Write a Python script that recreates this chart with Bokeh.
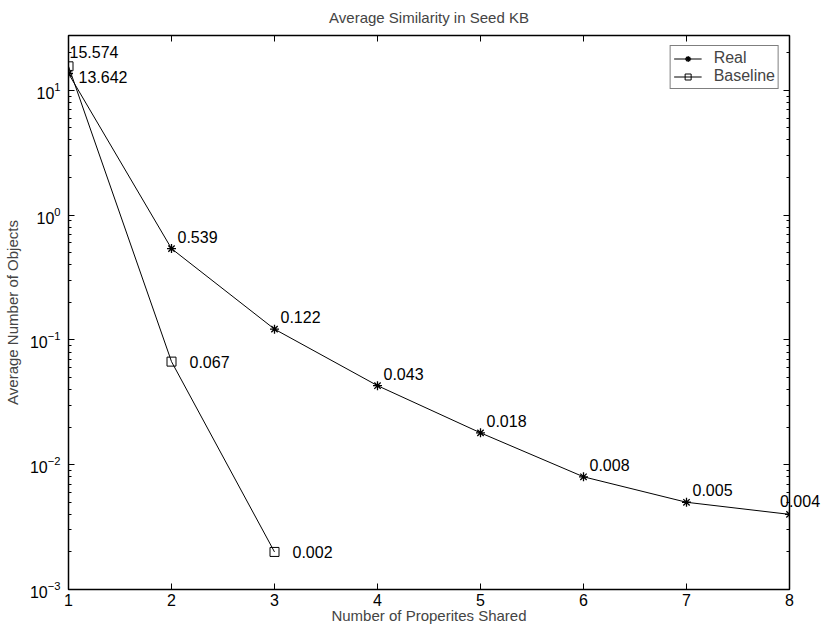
from bokeh.plotting import figure
from bokeh.models import (LinearAxis, FixedTicker, LogTicker, Legend, LegendItem,
                          ColumnDataSource, CustomJSTickFormatter, LabelSet)
from bokeh.core.properties import value
from bokeh.embed import file_html
from bokeh.resources import INLINE

try:
    from bokeh.models import HTMLLabelSet as EdgeLabelSet
except Exception:
    EdgeLabelSet = LabelSet

# data
real_x = [1, 2, 3, 4, 5, 6, 7, 8]
real_y = [13.642, 0.539, 0.122, 0.043, 0.018, 0.008, 0.005, 0.004]
real_lbl = ["13.642", "0.539", "0.122", "0.043", "0.018", "0.008", "0.005", "0.004"]
base_x = [1, 2, 3]
base_y = [15.574, 0.067, 0.002]
base_lbl = ["15.574", "0.067", "0.002"]
x_ticks = [1, 2, 3, 4, 5, 6, 7, 8]

FONT = "Liberation Sans"

p = figure(width=823, height=627, y_axis_type="log", x_range=(1, 8), y_range=(1e-3, 27.5),
           output_backend="svg", toolbar_location=None,
           min_border_left=61, min_border_right=34, min_border_top=26, min_border_bottom=38)
p.title.text = "Average Similarity in Seed KB"
p.title.align = "center"
p.title.text_font = FONT
p.title.text_font_size = "15px"
p.title.text_font_style = "normal"
p.title.standoff = 12
p.xgrid.visible = False
p.ygrid.visible = False
p.outline_line_color = "black"
p.outline_line_width = 1.5

def style_axis(ax, show_labels=True):
    ax.major_tick_in = 6
    ax.major_tick_out = 0
    ax.minor_tick_in = 3
    ax.minor_tick_out = 0
    ax.axis_line_color = "black"
    ax.major_label_text_font = FONT
    ax.major_label_text_font_size = "16px"
    ax.major_label_text_color = "black"
    ax.axis_label_text_font = FONT
    ax.axis_label_text_font_size = "15px"
    ax.axis_label_text_font_style = "normal"
    if not show_labels:
        ax.formatter = CustomJSTickFormatter(code="return ' ';")
        ax.major_label_text_font_size = "1px"
        ax.major_label_standoff = 0

p.xaxis.ticker = FixedTicker(ticks=x_ticks)
p.xaxis.axis_label = "Number of Properites Shared"
p.yaxis.axis_label = "Average Number of Objects"
p.yaxis.ticker = LogTicker(num_minor_ticks=10)
p.xaxis.minor_tick_line_color = None
style_axis(p.xaxis[0])
style_axis(p.yaxis[0])
p.xaxis.major_label_standoff = 4
p.xaxis.axis_label_standoff = -2
p.yaxis.major_label_standoff = 8
p.yaxis.axis_label_standoff = 6

top = LinearAxis(ticker=FixedTicker(ticks=x_ticks))
style_axis(top, False)
top.minor_tick_line_color = None
p.add_layout(top, "above")
right = LinearAxis(ticker=LogTicker(num_minor_ticks=10))
style_axis(right, False)
p.add_layout(right, "right")

rl = p.line(real_x, real_y, line_color="black", line_width=1)
rm = p.scatter(real_x, real_y, marker="asterisk", size=9, line_color="black", line_width=1.3)
bl = p.line(base_x, base_y, line_color="black", line_width=1)
bm = p.scatter(base_x, base_y, marker="square", size=9, line_color="black", fill_color=None, line_width=1)

# labels inside the frame
rsrc = ColumnDataSource(dict(x=real_x[:-1], y=real_y[:-1], t=real_lbl[:-1],
                             xo=[10, 6, 6, 6, 6, 6, 6], yo=[-4, 12, 12, 12, 12, 12, 12]))
bsrc = ColumnDataSource(dict(x=base_x, y=base_y, t=base_lbl,
                             xo=[1, 18, 18], yo=[14, 0, 0]))
for src in (rsrc, bsrc):
    p.add_layout(LabelSet(x="x", y="y", text="t", x_offset="xo", y_offset="yo", source=src,
                          text_font=value(FONT), text_font_size=value("16px"),
                          text_baseline="middle", text_align="left", text_color="black"))
# label that runs past the right edge of the frame
esrc = ColumnDataSource(dict(x=real_x[-1:], y=real_y[-1:], t=real_lbl[-1:]))
p.add_layout(EdgeLabelSet(x="x", y="y", text="t", x_offset=-9, y_offset=12, source=esrc,
                          text_font=value(FONT), text_font_size=value("16px"),
                          text_baseline="middle", text_align="left", text_color="black"))

legend = Legend(items=[LegendItem(label="Real", renderers=[rl, rm]),
                       LegendItem(label="Baseline", renderers=[bl, bm])],
                location="top_right")
legend.label_text_font = FONT
legend.label_text_font_size = "16px"
legend.border_line_color = "black"
legend.border_line_width = 1
legend.margin = 10
legend.padding = 3
legend.spacing = 0
legend.glyph_width = 28
legend.label_standoff = 12
legend.label_height = 15
legend.glyph_height = 15
p.add_layout(legend)

open("out.html", "w").write(file_html(p, INLINE))
